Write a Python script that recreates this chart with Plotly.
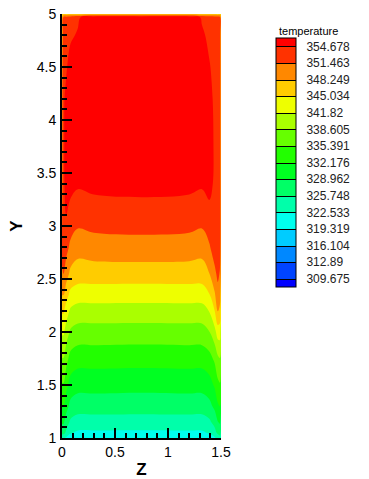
import plotly.graph_objects as go

# ---- data ----
z_coords = [0.0, 0.015, 0.04, 0.08, 0.15, 0.3, 0.75, 1.2, 1.32, 1.39, 1.44, 1.47, 1.49, 1.5]
y_coords = [1.0, 1.05, 1.15, 1.3, 1.5, 1.75, 2.0, 2.2, 2.35, 2.55, 2.8, 3.05, 3.4, 3.8, 4.2, 4.5, 4.8, 4.97, 5.0]

# temperature table: one row per y value, one column per z value
temperature = [
    [323.0, 323.0, 322.0, 321.0, 320.5, 320.5, 320.4, 320.5, 320.5, 321.0, 322.0, 323.5, 324.5, 323.0],
    [327.0, 327.0, 325.0, 322.85, 322.05, 322.05, 322.0, 322.05, 322.05, 322.85, 324.55, 326.55, 327.05, 325.05],
    [329.4, 329.4, 327.4, 325.2, 324.36, 324.36, 324.3, 324.36, 324.36, 325.16, 326.86, 328.86, 329.36, 327.36],
    [332.2, 332.2, 330.2, 328.0, 327.21, 327.3, 327.2, 327.3, 327.21, 328.0, 329.7, 331.7, 332.2, 330.2],
    [335.1, 335.1, 333.1, 330.9, 330.09, 330.1, 330.0, 330.1, 330.09, 330.9, 332.6, 334.6, 335.1, 333.1],
    [338.5, 338.5, 336.5, 334.3, 333.45, 333.5, 333.4, 333.5, 333.45, 334.3, 336.0, 338.0, 338.5, 336.5],
    [342.3, 342.3, 340.3, 338.1, 337.3, 337.3, 337.2, 337.3, 337.3, 338.5, 340.8, 343.3, 343.3, 340.3],
    [345.5, 345.5, 343.5, 341.3, 340.53, 340.5, 340.5, 340.5, 340.53, 342.0, 345.0, 348.5, 347.5, 343.5],
    [348.3, 348.3, 346.3, 344.1, 343.28, 343.3, 343.2, 343.3, 343.28, 344.8, 347.8, 350.3, 349.3, 345.8],
    [351.2, 351.5, 349.7, 347.5, 346.69, 346.7, 346.7, 346.7, 346.69, 348.2, 350.7, 352.2, 351.2, 348.2],
    [352.0, 353.5, 352.6, 350.7, 349.5, 350.0, 350.2, 350.0, 349.5, 351.1, 353.1, 353.6, 352.6, 349.6],
    [351.0, 354.0, 354.5, 353.3, 352.3, 352.7, 352.9, 352.7, 352.3, 353.5, 354.2, 354.0, 353.0, 349.5],
    [350.0, 354.2, 355.6, 355.6, 355.1, 355.5, 355.7, 355.5, 355.1, 355.6, 354.2, 353.6, 352.8, 349.0],
    [350.0, 354.2, 355.9, 356.4, 356.5, 356.6, 356.6, 356.6, 356.5, 356.3, 354.2, 353.5, 352.5, 349.0],
    [350.0, 354.2, 355.5, 356.7, 357.0, 357.0, 357.0, 357.0, 357.0, 355.8, 354.0, 353.4, 352.5, 349.0],
    [349.5, 353.8, 354.3, 356.0, 357.0, 357.2, 357.2, 357.2, 356.6, 354.9, 353.8, 353.3, 352.4, 349.0],
    [349.0, 352.8, 353.5, 354.2, 355.0, 357.2, 357.3, 357.0, 355.2, 354.0, 353.3, 353.0, 352.2, 348.5],
    [348.0, 352.0, 352.5, 353.0, 354.2, 357.0, 357.1, 357.0, 354.3, 353.5, 353.0, 352.6, 351.8, 348.0],
    [345.0, 346.5, 346.5, 346.5, 346.5, 346.5, 346.5, 346.5, 346.5, 346.5, 346.5, 346.5, 346.5, 345.0],
]

level_start = 309.675
level_end = 354.678
level_count = 15
level_labels = ["309.675", "312.89", "316.104", "319.319", "322.533", "325.748", "328.962",
                "332.176", "335.391", "338.605", "341.82", "345.034", "348.249", "351.463", "354.678"]
level_values = [float(s) for s in level_labels]

x_ticks = [0, 0.5, 1, 1.5]
x_tick_labels = ["0", "0.5", "1", "1.5"]
y_ticks = [1, 1.5, 2, 2.5, 3, 3.5, 4, 4.5, 5]
y_tick_labels = ["1", "1.5", "2", "2.5", "3", "3.5", "4", "4.5", "5"]

band_colors = [
    "rgb(0,0,255)", "rgb(0,68,255)", "rgb(0,136,255)", "rgb(0,204,255)",
    "rgb(0,255,238)", "rgb(0,255,170)", "rgb(0,255,102)", "rgb(0,255,34)",
    "rgb(34,255,0)", "rgb(102,255,0)", "rgb(170,255,0)", "rgb(238,255,0)",
    "rgb(255,204,0)", "rgb(255,136,0)", "rgb(255,50,0)", "rgb(255,0,0)",
]

level_size = (level_end - level_start) / (level_count - 1)
n = len(band_colors)
colorscale = [[i / (n - 1), c] for i, c in enumerate(band_colors)]

FONT = "Arial, Liberation Sans, sans-serif"
W, H = 369, 479
ML, MT = 62, 14
PLOT_R, PLOT_B = 221, 438
MR, MB = W - PLOT_R, H - PLOT_B
PW, PH = PLOT_R - ML, PLOT_B - MT

CB_LEFT, CB_TOP = 276, 38

fig = go.Figure()
fig.add_trace(go.Contour(
    x=z_coords, y=y_coords, z=temperature,
    contours=dict(coloring="fill", showlines=False, start=level_start, end=level_end, size=level_size),
    colorscale=colorscale, showscale=False,
    line=dict(width=0), hoverinfo="skip",
))
# invisible twin trace that only provides the legend bar (with black separators)
fig.add_trace(go.Contour(
    x=z_coords, y=y_coords, z=temperature,
    contours=dict(coloring="fill", showlines=True, start=level_start, end=level_end, size=level_size),
    colorscale=colorscale, opacity=0, hoverinfo="skip",
    line=dict(color="black", width=1),
    showscale=True,
    colorbar=dict(
        thickness=20, thicknessmode="pixels",
        len=249, lenmode="pixels",
        x=(CB_LEFT - ML) / PW, xanchor="left", xpad=0,
        y=(PLOT_B - CB_TOP) / PH, yanchor="top", ypad=0,
        outlinewidth=1, outlinecolor="black",
        tickvals=level_values, ticktext=level_labels,
        ticks="outside", ticklen=8, tickcolor="rgba(0,0,0,0)",
        tickfont=dict(family=FONT, size=12, color="#222"),
    ),
))

axis_common = dict(
    showgrid=False, zeroline=False, showline=True, linecolor="black", linewidth=2,
    ticks="inside", ticklen=10, tickwidth=2, tickcolor="black",
    tickfont=dict(family=FONT, size=14, color="black"),
    mirror=False, automargin=False, ticklabeloverflow="allow",
)

fig.update_layout(
    width=W, height=H,
    margin=dict(l=ML, r=MR, t=MT, b=MB, autoexpand=False),
    paper_bgcolor="white", plot_bgcolor="white",
    xaxis=dict(range=[0, 1.5], tickvals=x_ticks, ticktext=x_tick_labels,
               minor=dict(dtick=0.1, tick0=0, ticks="inside", ticklen=5, tickwidth=1.5, tickcolor="black"),
               title=dict(text="<b>Z</b>", font=dict(family=FONT, size=17, color="black"), standoff=8),
               ticklabelstandoff=0,
               **axis_common),
    yaxis=dict(range=[1, 5], tickvals=y_ticks, ticktext=y_tick_labels,
               minor=dict(dtick=0.1, tick0=1, ticks="inside", ticklen=5, tickwidth=1.5, tickcolor="black"),
               title=dict(text="<b>Y</b>", font=dict(family=FONT, size=17, color="black"), standoff=10),
               ticklabelstandoff=1,
               **axis_common),
    annotations=[dict(text="temperature", xref="paper", yref="paper",
                      x=(CB_LEFT + 1 - ML) / PW, y=(PLOT_B - 31) / PH,
                      xanchor="left", yanchor="middle",
                      showarrow=False, font=dict(family=FONT, size=11, color="black"))],
)

# remove the browser's default page margin so the figure fills the window exactly
fig.write_html("out.html", config={"displayModeBar": False},
               post_script="document.body.style.margin='0';")
